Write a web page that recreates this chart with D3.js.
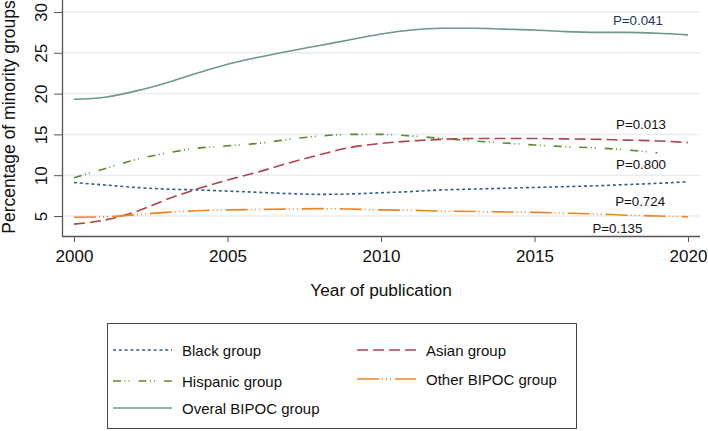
<!DOCTYPE html>
<html><head><meta charset="utf-8">
<script src="https://cdn.jsdelivr.net/npm/d3@7"></script>
<style>body{margin:0;background:#fff}svg{display:block}text{font-family:"Liberation Sans",Arial,sans-serif}</style>
</head><body><svg id="c" width="708" height="431"></svg>
<script>
const years = d3.range(2000, 2021);
const overall  = [19.3,19.55,20.3,21.3,22.5,23.6,24.45,25.2,25.9,26.6,27.3,27.8,28.0,28.0,27.9,27.8,27.6,27.5,27.5,27.4,27.2];
const hispanic = [9.7,10.8,11.9,12.7,13.3,13.6,13.9,14.4,14.8,15.0,15.0,14.8,14.5,14.2,13.95,13.7,13.5,13.35,13.1,12.75,null];
const asian    = [4.0,4.5,5.5,7.0,8.3,9.4,10.4,11.5,12.5,13.4,13.9,14.2,14.4,14.5,14.5,14.5,14.45,14.4,14.3,14.2,14.0];
const black    = [9.1,8.8,8.5,8.3,8.2,8.05,7.9,7.75,7.65,7.7,7.85,8.0,8.2,8.3,8.4,8.5,8.6,8.7,8.85,9.0,9.2];
const other    = [4.85,4.9,5.15,5.45,5.65,5.75,5.8,5.85,5.9,5.85,5.75,5.7,5.6,5.55,5.5,5.45,5.35,5.25,5.1,5.0,4.9];
const yTicks = [5,10,15,20,25,30];
const xTicks = [2000,2005,2010,2015,2020];
const pLabels = [
  {text:"P=0.041", year:2018.37, value:28.4, color:"#1f3566"},
  {text:"P=0.013", year:2018.47, value:15.66, color:"#111"},
  {text:"P=0.800", year:2018.47, value:10.76, color:"#111"},
  {text:"P=0.724", year:2018.44, value:6.23, color:"#111"},
  {text:"P=0.135", year:2017.7, value:2.92, color:"#111"}
];
const seriesNames = ["Black group","Asian group","Hispanic group","Other BIPOC group","Overal BIPOC group"];

const styles = {
  "Black group":{data:black,color:"#2f5d8f",dash:"3,2.8"},
  "Asian group":{data:asian,color:"#b0414f",dash:"11,5"},
  "Hispanic group":{data:hispanic,color:"#5b8a2d",dash:"8,3.5,1,3,1,9"},
  "Other BIPOC group":{data:other,color:"#ee8426",dash:"22,3,1,3,1,3,1,4"},
  "Overal BIPOC group":{data:overall,color:"#6f9886",dash:null}
};

const svg = d3.select("#c");
const x = d3.scaleLinear().domain([2000,2020]).range([74,688]);
const y = d3.scaleLinear().domain([5,30]).range([216,12]);
const pLeft = 62, pRight = 700, pBottom = 236, pTop = 0;

// gridlines
svg.append("g").selectAll("line").data(yTicks).join("line")
  .attr("x1",pLeft).attr("x2",pRight).attr("y1",d=>y(d)).attr("y2",d=>y(d))
  .attr("stroke","#e6eef4").attr("stroke-width",1.5);

// axes
const gx = svg.append("g").attr("transform",`translate(0,${pBottom})`)
  .call(d3.axisBottom(x).tickValues(xTicks).tickFormat(d3.format("d")).tickSize(6));
gx.select(".domain").attr("d",`M${pLeft},0.5H${pRight}`);
const gy = svg.append("g").attr("transform",`translate(${pLeft},0)`)
  .call(d3.axisLeft(y).tickValues(yTicks).tickSize(8));
gy.select(".domain").attr("d",`M0.5,${pTop}V${pBottom}`);
[gx,gy].forEach(g=>{
  g.selectAll(".domain").attr("stroke","#555").attr("stroke-width",1.3);
  g.selectAll(".tick line").attr("stroke","#555");
  g.selectAll(".tick text").attr("font-size",17).attr("fill","#111")
   .style("font-family","'Liberation Sans',Arial,sans-serif");
});
gy.selectAll(".tick text").each(function(d){
    d3.select(this).attr("x",null).attr("dy",null)
      .attr("text-anchor","middle")
      .attr("transform",`translate(-15,0) rotate(-90)`);
  });
gx.selectAll(".tick text").attr("y",26).attr("dy",null);

// axis titles
svg.append("text").attr("x",381).attr("y",296).attr("text-anchor","middle")
  .attr("font-size",17.3).attr("fill","#111").text("Year of publication");
svg.append("text").attr("transform","translate(15,117) rotate(-90)").attr("text-anchor","middle")
  .attr("font-size",17.5).attr("fill","#111").text("Percentage of minority groups");

// lines
const line = d3.line().defined(d=>d[1]!=null).x(d=>x(d[0])).y(d=>y(d[1])).curve(d3.curveMonotoneX);
const drawOrder = ["Overal BIPOC group","Hispanic group","Asian group","Black group","Other BIPOC group"];
drawOrder.forEach(name=>{
  const s = styles[name];
  svg.append("path").datum(years.map((yr,i)=>[yr,s.data[i]]))
    .attr("d",line).attr("fill","none").attr("stroke",s.color)
    .attr("stroke-width",1.6).attr("stroke-dasharray",s.dash);
});

// P labels
svg.append("g").selectAll("text").data(pLabels).join("text")
  .attr("x",d=>x(d.year)).attr("y",d=>y(d.value)).attr("text-anchor","middle")
  .attr("font-size",13.3).attr("fill",d=>d.color).text(d=>d.text);

// legend
const lg = svg.append("g");
lg.append("rect").attr("x",107.5).attr("y",323.5).attr("width",469).attr("height",105)
  .attr("fill","#fff").attr("stroke","#444").attr("stroke-width",1);
const pos = [
  {x:113,y:350},{x:357,y:350},
  {x:113,y:381},{x:357,y:379},
  {x:113,y:408}
];
seriesNames.forEach((name,i)=>{
  const s = styles[name], p = pos[i];
  lg.append("line").attr("x1",p.x).attr("x2",p.x+59).attr("y1",p.y).attr("y2",p.y)
    .attr("stroke",s.color).attr("stroke-width",1.6).attr("stroke-dasharray",s.dash);
  lg.append("text").attr("x",p.x+69).attr("y",p.y+5.5).attr("font-size",15)
    .attr("fill","#111").text(name);
});
</script></body></html>
